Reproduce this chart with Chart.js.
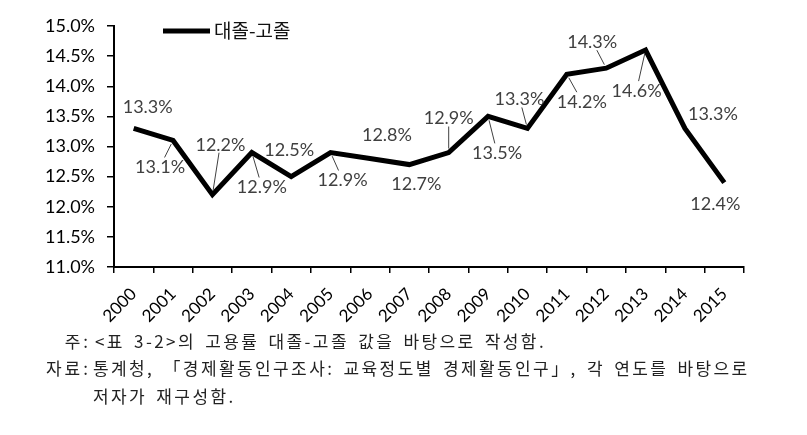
<!DOCTYPE html>
<html>
<head>
<meta charset="utf-8">
<script src="https://cdn.jsdelivr.net/npm/chart.js@4.4.1/dist/chart.umd.min.js"></script>
<style>
  html, body { margin: 0; padding: 0; background: #fff; }
  #wrap { position: relative; width: 807px; height: 435px; overflow: hidden; }
  #chart { position: absolute; left: 0; top: 0; }
  .note { position: absolute; font-family: "Noto Sans CJK KR", sans-serif; font-size: 17px; color: #222; white-space: nowrap; line-height: 20px; letter-spacing: 2.4px; word-spacing: 3px; }
  .lab { text-align: right; letter-spacing: 3px; }
</style>
</head>
<body>
<div id="wrap">
  <canvas id="chart" width="807" height="435"></canvas>
  <div class="note lab" style="right:716px; top:331px;">주:</div>
  <div class="note" style="left:95px; top:331px;">&lt;표 3-2&gt;의 고용률 대졸-고졸 값을 바탕으로 작성함.</div>
  <div class="note lab" style="right:716px; top:358px;">자료:</div>
  <div class="note" style="left:93px; top:358px;">통계청, 「경제활동인구조사: 교육정도별 경제활동인구」, 각 연도를 바탕으로</div>
  <div class="note" style="left:93px; top:386px;">저자가 재구성함.</div>
</div>
<script>
// Categories and values (%)
const years = ["2000", "2001", "2002", "2003", "2004", "2005", "2006", "2007",
  "2008", "2009", "2010", "2011", "2012", "2013", "2014", "2015"];
const gapValues = [13.3, 13.1, 12.2, 12.9, 12.5, 12.9, 12.8, 12.7,
  12.9, 13.5, 13.3, 14.2, 14.3, 14.6, 13.3, 12.4];
const seriesName = "대졸-고졸";

// Y axis range
const yMin = 11;
const yMax = 15;
const yStep = 0.5;

// Where each data label sits relative to its point (moved by hand in the original)
const labelOffsets = [[14, -22], [-13, 26], [8, -51], [10, 34], [-2, -27], [12, 27], [17, -24], [7, 19],
  [0, -35], [9, 36], [-8, -30], [15, 27], [-14, -27], [-9, 40], [28, -15], [-9, 21]];
const hasLeader = [0, 1, 1, 1, 0, 1, 0, 0, 1, 1, 1, 1, 1, 1, 0, 0];

const labelFont = '18px Lato, "Liberation Sans", sans-serif';

// Draws data labels, their leader lines and the legend
const labelPlugin = {
  id: "labelPlugin",
  afterDatasetsDraw(chart) {
    const ctx = chart.ctx;
    const meta = chart.getDatasetMeta(0);
    ctx.save();
    ctx.font = labelFont;
    ctx.textAlign = "center";
    ctx.textBaseline = "middle";
    meta.data.forEach((pt, i) => {
      const text = gapValues[i].toFixed(1) + "%";
      const lx = pt.x + labelOffsets[i][0];
      const ly = pt.y + labelOffsets[i][1];
      ctx.fillStyle = "#404040";
      ctx.fillText(text, lx, ly + 1);
      if (hasLeader[i]) {
        const hw = ctx.measureText(text).width / 2 + 2;
        const hh = 9;
        const dx = pt.x - lx;
        const dy = pt.y - ly;
        const len = Math.sqrt(dx * dx + dy * dy);
        const t = Math.min(dx !== 0 ? hw / Math.abs(dx) : 99, dy !== 0 ? hh / Math.abs(dy) : 99);
        const sx = lx + dx * t;
        const sy = ly + dy * t;
        const ex = pt.x - (dx / len) * 4;
        const ey = pt.y - (dy / len) * 4;
        ctx.strokeStyle = "#404040";
        ctx.lineWidth = 1;
        ctx.beginPath();
        ctx.moveTo(sx, sy);
        ctx.lineTo(ex, ey);
        ctx.stroke();
      }
    });

    // legend
    ctx.strokeStyle = "#000";
    ctx.lineWidth = 5;
    ctx.beginPath();
    ctx.moveTo(163, 31);
    ctx.lineTo(210, 31);
    ctx.stroke();
    ctx.fillStyle = "#111";
    ctx.font = '19px "Noto Sans CJK KR", sans-serif';
    ctx.textAlign = "left";
    ctx.fillText(chart.data.datasets[0].label, 214, 31);
    ctx.restore();
  },
};

const chart = new Chart(document.getElementById("chart"), {
  type: "line",
  data: {
    labels: years,
    datasets: [
      {
        label: seriesName,
        data: gapValues,
        borderColor: "#000",
        borderWidth: 5,
        pointRadius: 0,
        tension: 0,
        fill: false,
      },
    ],
  },
  options: {
    responsive: false,
    animation: false,
    layout: { padding: { top: 26, right: 63, left: 0, bottom: 0 } },
    plugins: {
      legend: { display: false },
      tooltip: { enabled: false },
    },
    scales: {
      x: {
        offset: true,
        grid: { offset: true, drawOnChartArea: false, color: "#000", tickLength: 6, lineWidth: 1.5 },
        border: { color: "#000", width: 2 },
        ticks: {
          color: "#000",
          font: { family: 'Lato, "Liberation Sans", sans-serif', size: 17 },
          minRotation: 45,
          maxRotation: 45,
          padding: 11,
        },
        afterFit(scale) {
          scale.height = 168;
        },
      },
      y: {
        min: yMin,
        max: yMax,
        grid: { drawOnChartArea: false, color: "#000", tickLength: 7, lineWidth: 1.5 },
        border: { color: "#000", width: 2 },
        ticks: {
          stepSize: yStep,
          color: "#000",
          padding: 12,
          font: { family: 'Lato, "Liberation Sans", sans-serif', size: 18 },
          callback: (v) => v.toFixed(1) + "%",
        },
        afterFit(scale) {
          scale.width = 114;
        },
      },
    },
  },
  plugins: [labelPlugin],
});
</script>
</body>
</html>
